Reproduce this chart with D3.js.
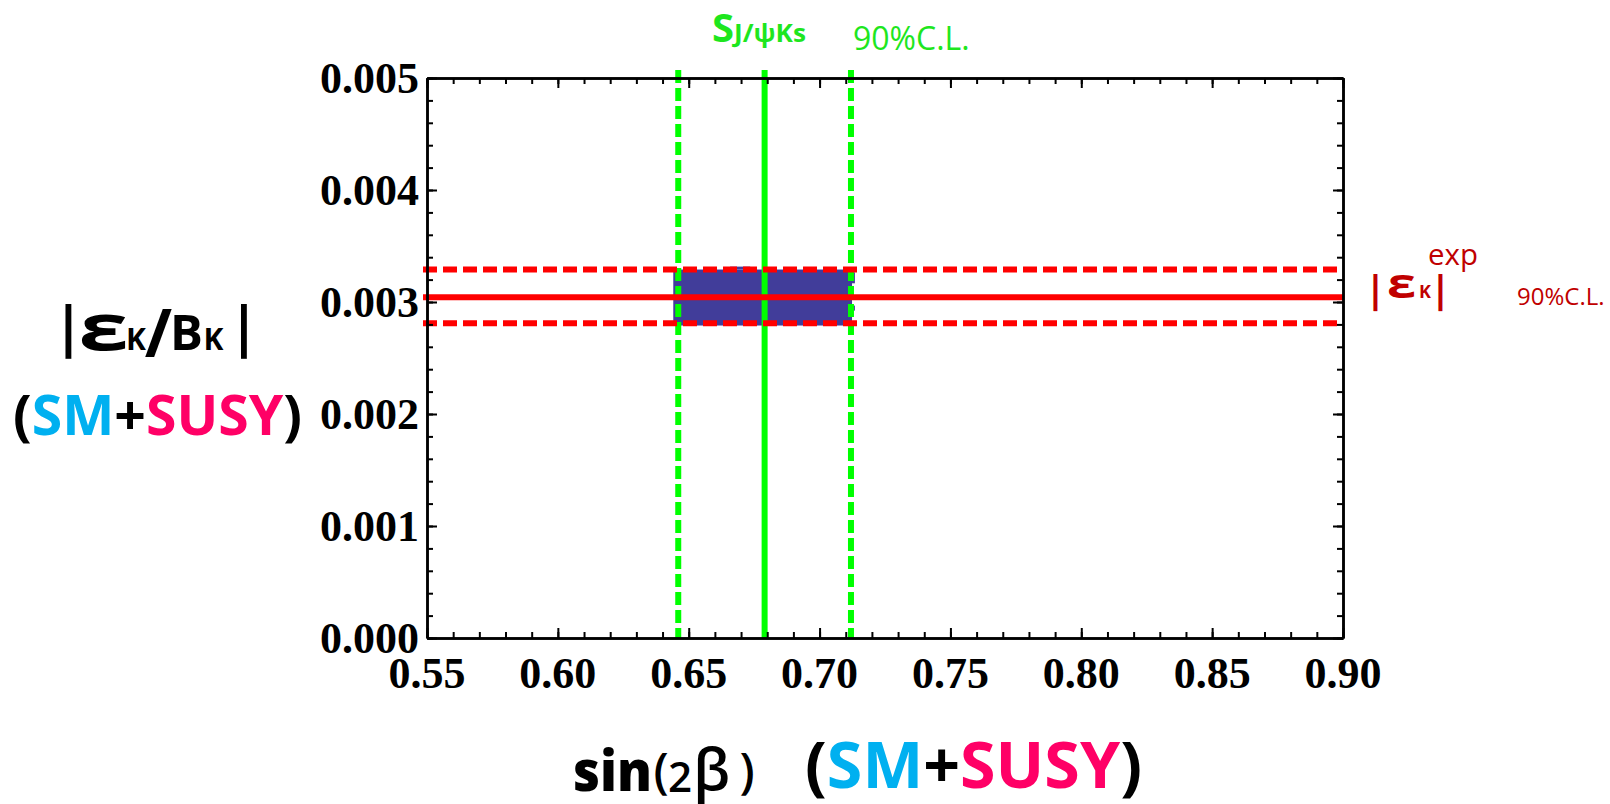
<!DOCTYPE html>
<html><head><meta charset="utf-8">
<script src="https://cdn.jsdelivr.net/npm/d3@7"></script>
<style>body{margin:0;background:#fff;} svg{display:block}</style>
</head><body><svg id="c" width="1610" height="804"></svg>
<script>
// ---- data ----
const xTickValues = [0.55, 0.60, 0.65, 0.70, 0.75, 0.80, 0.85, 0.90];
const xTickLabels = ["0.55", "0.60", "0.65", "0.70", "0.75", "0.80", "0.85", "0.90"];
const yTickValues = [0, 0.001, 0.002, 0.003, 0.004, 0.005];
const yTickLabels = ["0.000", "0.001", "0.002", "0.003", "0.004", "0.005"];
// S_{J/psi Ks}: central value and 90% C.L. bounds
const sinBetaLines = [
  { value: 0.646, dashed: true },
  { value: 0.679, dashed: false },
  { value: 0.712, dashed: true }
];
// |eps_K| exp: central value and 90% C.L. bounds
const epsLines = [
  { value: 0.00329, dashed: true },
  { value: 0.003042, dashed: false },
  { value: 0.00281, dashed: true }
];
// allowed region (SM+SUSY scan) as patches: [x0, x1, y0, y1]
const allowedRegion = [
  [0.6441, 0.7124, 0.00279, 0.00329],
  [0.6658, 0.6735, 0.00329, 0.003316],
  [0.7124, 0.7135, 0.003167, 0.003265],
  [0.7124, 0.7135, 0.002923, 0.002968]
];

// ---- layout ----
const svg = d3.select("#c");
const L = 427, R = 1343, T = 78, B = 638;
const x = d3.scaleLinear().domain([0.55, 0.90]).range([L, R]);
const y = d3.scaleLinear().domain([0, 0.005]).range([B, T]);

const xMinor = d3.range(55, 91).map(i => i / 100);
const yMinor = d3.range(0, 26).map(i => +(i * 0.0002).toFixed(4));

// allowed region
svg.append("g").selectAll("rect").data(allowedRegion).join("rect")
  .attr("x", d => x(d[0])).attr("width", d => x(d[1]) - x(d[0]))
  .attr("y", d => y(d[3])).attr("height", d => y(d[2]) - y(d[3]))
  .attr("fill", "#413d9a");

// green vertical lines
svg.append("g").selectAll("line").data(sinBetaLines).join("line")
  .attr("x1", d => x(d.value)).attr("x2", d => x(d.value))
  .attr("y1", y(0.005) - 8).attr("y2", y(0))
  .attr("stroke", "#00ff00").attr("stroke-width", 6)
  .attr("stroke-dasharray", d => d.dashed ? "13,5" : null);

// red horizontal lines
svg.append("g").selectAll("line").data(epsLines).join("line")
  .attr("x1", x(0.55) - 4).attr("x2", x(0.90))
  .attr("y1", d => y(d.value)).attr("y2", d => y(d.value))
  .attr("stroke", "#ff0000").attr("stroke-width", 6)
  .attr("stroke-dasharray", d => d.dashed ? "14,6" : null);

// axes frame with inward ticks
function styleAxis(g) {
  g.selectAll("path.domain").attr("stroke", "#000").attr("stroke-width", 2.5);
  g.selectAll(".tick line").attr("stroke", "#000").attr("stroke-width", 2);
  g.selectAll("text").remove();
}
const axes = [
  [d3.axisBottom(x), B, 0, xTickValues, xMinor],
  [d3.axisTop(x), T, 0, xTickValues, xMinor],
  [d3.axisLeft(y), 0, L, yTickValues, yMinor],
  [d3.axisRight(y), 0, R, yTickValues, yMinor]
];
axes.forEach(([ax, ty, tx, majors, minors]) => {
  const gMinor = svg.append("g").attr("transform", `translate(${tx},${ty})`)
    .call(ax.tickValues(minors).tickSize(-6).tickSizeOuter(0).tickFormat(""));
  styleAxis(gMinor);
  const gMajor = svg.append("g").attr("transform", `translate(${tx},${ty})`)
    .call(ax.tickValues(majors).tickSize(-10).tickSizeOuter(0).tickFormat(""));
  styleAxis(gMajor);
});

// tick labels
const tickFont = "'Liberation Serif', 'Times New Roman', serif";
svg.append("g").selectAll("text").data(xTickValues).join("text")
  .attr("x", d => x(d)).attr("y", 688)
  .attr("text-anchor", "middle")
  .attr("font-family", tickFont).attr("font-weight", "bold").attr("font-size", 44)
  .text((d, i) => xTickLabels[i]);
svg.append("g").selectAll("text").data(yTickValues).join("text")
  .attr("x", 419).attr("y", d => y(d) + 15)
  .attr("text-anchor", "end")
  .attr("font-family", tickFont).attr("font-weight", "bold").attr("font-size", 44)
  .text((d, i) => yTickLabels[i]);

// ---- annotation texts ----
const sans = "'Open Sans', 'Noto Sans', sans-serif";
function txt(s, px, py, size, opts = {}) {
  const t = svg.append("text").attr("x", px).attr("y", py)
    .attr("font-family", sans).attr("font-size", size)
    .attr("font-weight", opts.weight || "bold")
    .attr("fill", opts.fill || "#000")
    .attr("text-anchor", opts.anchor || "start")
    .text(s);
  if (opts.len) t.attr("textLength", opts.len).attr("lengthAdjust", "spacingAndGlyphs");
  return t;
}
const green = "#1ee61e", darkRed = "#c00000", cyan = "#00b0f0", pink = "#ff0066";

// top green label
txt("S", 712, 42, 40, { fill: green });
txt("J/ψKs", 734, 42, 25, { fill: green, len: 72 });
txt("90%C.L.", 853, 50, 32, { fill: green, weight: "normal" });

// right red label
txt("|", 1375.5, 303, 37, { fill: darkRed, anchor: "middle" });
txt("ε", 1401.5, 298, 42, { fill: darkRed, anchor: "middle", len: 29 });
txt("K", 1425, 298, 18, { fill: darkRed, anchor: "middle" });
txt("|", 1440.5, 303, 37, { fill: darkRed, anchor: "middle" });
txt("exp", 1428, 265, 29, { fill: darkRed, weight: "normal", len: 50 });
txt("90%C.L.", 1517, 305, 24, { fill: darkRed, weight: "normal" });

// y axis title
txt("|", 68.5, 346, 55, { anchor: "middle" });
txt("ε", 103.5, 350, 64, { anchor: "middle", len: 50 });
txt("K", 136, 350, 30, { anchor: "middle" });
txt("/", 158.5, 357, 66, { anchor: "middle" });
txt("B", 186.5, 350, 49, { anchor: "middle" });
txt("K", 213.5, 350, 30, { anchor: "middle" });
txt("|", 244, 346, 55, { anchor: "middle" });

const yl2 = svg.append("text").attr("x", 13).attr("y", 435)
  .attr("font-family", sans).attr("font-weight", "bold").attr("font-size", 55)
  .attr("textLength", 289).attr("lengthAdjust", "spacingAndGlyphs");
[["(", "#000"], ["SM", cyan], ["+", "#000"], ["SUSY", pink], [")", "#000"]]
  .forEach(([s, c]) => yl2.append("tspan").attr("fill", c).text(s));

// x axis title
txt("sin", 573, 791, 56, { weight: "800", len: 79 });
txt("(", 661, 788, 48, { anchor: "middle", weight: "600" });
txt("2", 680, 792, 42, { anchor: "middle", weight: "600" });
txt("β", 711.5, 790, 57, { anchor: "middle", weight: "600" });
txt(")", 747, 788, 48, { anchor: "middle", weight: "600" });
const xl2 = svg.append("text").attr("x", 805).attr("y", 788)
  .attr("font-family", sans).attr("font-weight", "bold").attr("font-size", 65)
  .attr("textLength", 337).attr("lengthAdjust", "spacingAndGlyphs");
[["(", "#000"], ["SM", cyan], ["+", "#000"], ["SUSY", pink], [")", "#000"]]
  .forEach(([s, c]) => xl2.append("tspan").attr("fill", c).text(s));
</script></body></html>
